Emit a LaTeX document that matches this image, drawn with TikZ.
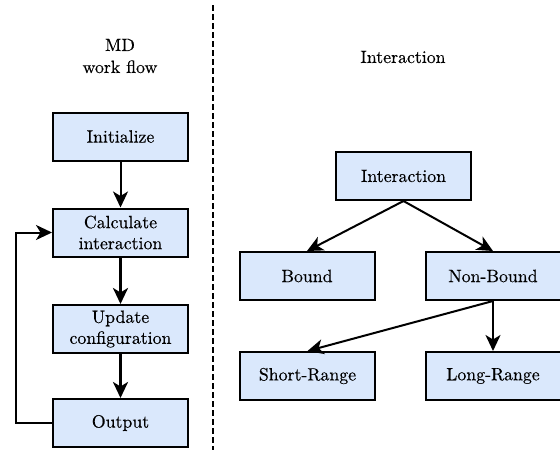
\documentclass[tikz,border=0pt]{standalone}
\usepackage{fontspec}
\setmainfont{lmroman10-regular.otf}[FakeBold=0.35]
\usetikzlibrary{arrows.meta}
\definecolor{boxblue}{HTML}{DAE8FC}
\begin{document}
\begin{tikzpicture}[x=1pt,y=-1pt,
 box/.style={draw=black,fill=boxblue,line width=2pt,minimum width=135pt,minimum height=48pt,inner sep=0pt,align=center,font=\rmfamily\fontsize{17.8}{21}\selectfont},
 lbl/.style={align=center,font=\rmfamily\fontsize{17.8}{22}\selectfont},
 arr/.style={-{Stealth[length=16pt,width=15pt,inset=4.5pt]},line width=2pt},
 thickarr/.style={arr,line width=3pt}]
\useasboundingbox (0,0) rectangle (560,450);
% headers
\node[lbl] (hmd) at (120,56) {MD\\work flow};
\node[lbl] (hint) at (403,57) {Interaction};
% divider
\coordinate (dtop) at (213,5);
\coordinate (dbot) at (213,450);
\draw[line width=2pt,dash pattern=on 5.5pt off 3.5pt] (dtop) -- (dbot);
% left flow
\node[box] (init) at (120.5,136.5) {Initialize};
\node[box] (calc) at (120.5,232.5) {Calculate\\interaction};
\node[box] (upd) at (120.5,329) {Update\\configuration};
\node[box] (out) at (120.5,423) {Output};
\draw[arr] (init) -- (calc);
\draw[thickarr] (calc) -- (upd);
\draw[thickarr] (upd) -- (out);
\coordinate (loopx) at (16,0);
\draw[arr] (out.west) -| (loopx |- out.west) |- (calc.west);
% right tree
\node[box] (inter) at (403.5,176) {Interaction};
\node[box] (bound) at (307,276) {Bound};
\node[box] (nonb) at (493,276) {Non-Bound};
\node[box] (short) at (307.5,376) {Short-Range};
\node[box] (long) at (493,376) {Long-Range};
\draw[arr] (inter.south) -- (bound.north);
\draw[arr] (inter.south) -- (nonb.north);
\draw[arr] (nonb.south) -- (short.north);
\draw[arr] (nonb.south) -- (long.north);
\end{tikzpicture}
\end{document}
